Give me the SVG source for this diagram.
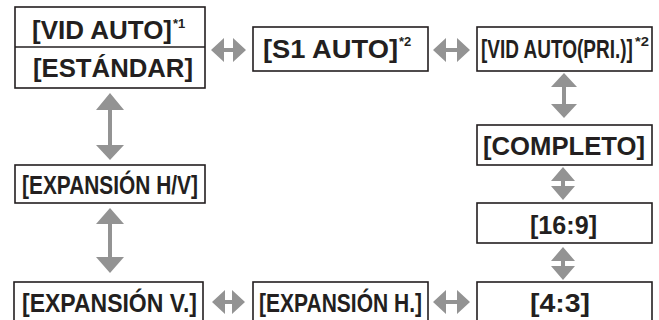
<svg xmlns="http://www.w3.org/2000/svg" width="659" height="320" viewBox="0 0 659 320">
<style>
.box{fill:#fff;stroke:#231f20;stroke-width:1.6}
.t{font-family:"Liberation Sans",Arial,sans-serif;font-weight:bold;font-size:25px;fill:#231f20}
.s{font-family:"Liberation Sans",Arial,sans-serif;font-weight:bold;font-size:13px;fill:#231f20}
.ar{fill:#939393}
</style>
<rect width="659" height="320" fill="#fff"/>
<g id="connectors">
  <path class="ar" d="M211,50 L224,38 L224,48 L233,48 L233,38 L246,50 L233,62 L233,52 L224,52 L224,62 Z"/>
  <path class="ar" d="M433,50 L446,38 L446,48 L457,48 L457,38 L470,50 L457,62 L457,52 L446,52 L446,62 Z"/>
  <path class="ar" d="M212,302 L225,290 L225,300 L232,300 L232,290 L245,302 L232,314 L232,304 L225,304 L225,314 Z"/>
  <path class="ar" d="M433,302 L446,290 L446,300 L457,300 L457,290 L470,302 L457,314 L457,304 L446,304 L446,314 Z"/>
  <path class="ar" d="M110,93 L124,110 L112,110 L112,145 L124,145 L110,160 L96,145 L108,145 L108,110 L96,110 Z"/>
  <path class="ar" d="M110,208 L124,224 L112,224 L112,257 L124,257 L110,273 L96,257 L108,257 L108,224 L96,224 Z"/>
  <path class="ar" d="M564,73 L577,87 L566,87 L566,104 L577,104 L564,118 L551,104 L562,104 L562,87 L551,87 Z"/>
  <path class="ar" d="M563,167 L575,181 L565,181 L565,186 L575,186 L563,200 L551,186 L561,186 L561,181 L551,181 Z"/>
  <path class="ar" d="M563,247 L575,261 L565,261 L565,266 L575,266 L563,280 L551,266 L561,266 L561,261 L551,261 Z"/>
</g>
<g id="n-vidauto">
  <rect class="box" x="15" y="7" width="190" height="81"/>
  <line x1="15" y1="47" x2="205" y2="47" stroke="#231f20" stroke-width="1.6"/>
  <text class="t" x="32" y="39" textLength="140" lengthAdjust="spacingAndGlyphs">[VID AUTO]</text>
  <text class="s" x="173" y="28">*1</text>
  <text class="t" x="33" y="77" textLength="160" lengthAdjust="spacingAndGlyphs">[ESTÁNDAR]</text>
</g>
<g id="n-s1auto">
  <rect class="box" x="253" y="27" width="175" height="44"/>
  <text class="t" x="263" y="58" textLength="135" lengthAdjust="spacingAndGlyphs">[S1 AUTO]</text>
  <text class="s" x="399" y="46">*2</text>
</g>
<g id="n-vidautopri">
  <rect class="box" x="477" y="27" width="175" height="44"/>
  <text class="t" transform="translate(481,58) scale(0.756,1)" x="0" y="0" textLength="201" lengthAdjust="spacingAndGlyphs">[VID AUTO(PRI.)]</text>
  <text class="s" x="635" y="46" textLength="14" lengthAdjust="spacingAndGlyphs">*2</text>
</g>
<g id="n-completo">
  <rect class="box" x="477" y="125" width="175" height="40"/>
  <text class="t" x="483" y="155" textLength="162" lengthAdjust="spacingAndGlyphs">[COMPLETO]</text>
</g>
<g id="n-169">
  <rect class="box" x="477" y="203" width="175" height="40"/>
  <text class="t" x="530" y="234" textLength="67" lengthAdjust="spacingAndGlyphs">[16:9]</text>
</g>
<g id="n-43">
  <rect class="box" x="477" y="282" width="175" height="45"/>
  <text class="t" x="530" y="312" textLength="60" lengthAdjust="spacingAndGlyphs">[4:3]</text>
</g>
<g id="n-exphv">
  <rect class="box" x="15" y="165" width="190" height="38"/>
  <text class="t" x="22" y="194" textLength="176" lengthAdjust="spacingAndGlyphs">[EXPANSIÓN H/V]</text>
</g>
<g id="n-expv">
  <rect class="box" x="14" y="282" width="189" height="45"/>
  <text class="t" x="22" y="312" textLength="175" lengthAdjust="spacingAndGlyphs">[EXPANSIÓN V.]</text>
</g>
<g id="n-exph">
  <rect class="box" x="253" y="282" width="175" height="45"/>
  <text class="t" x="259" y="312" textLength="163" lengthAdjust="spacingAndGlyphs">[EXPANSIÓN H.]</text>
</g>
</svg>
